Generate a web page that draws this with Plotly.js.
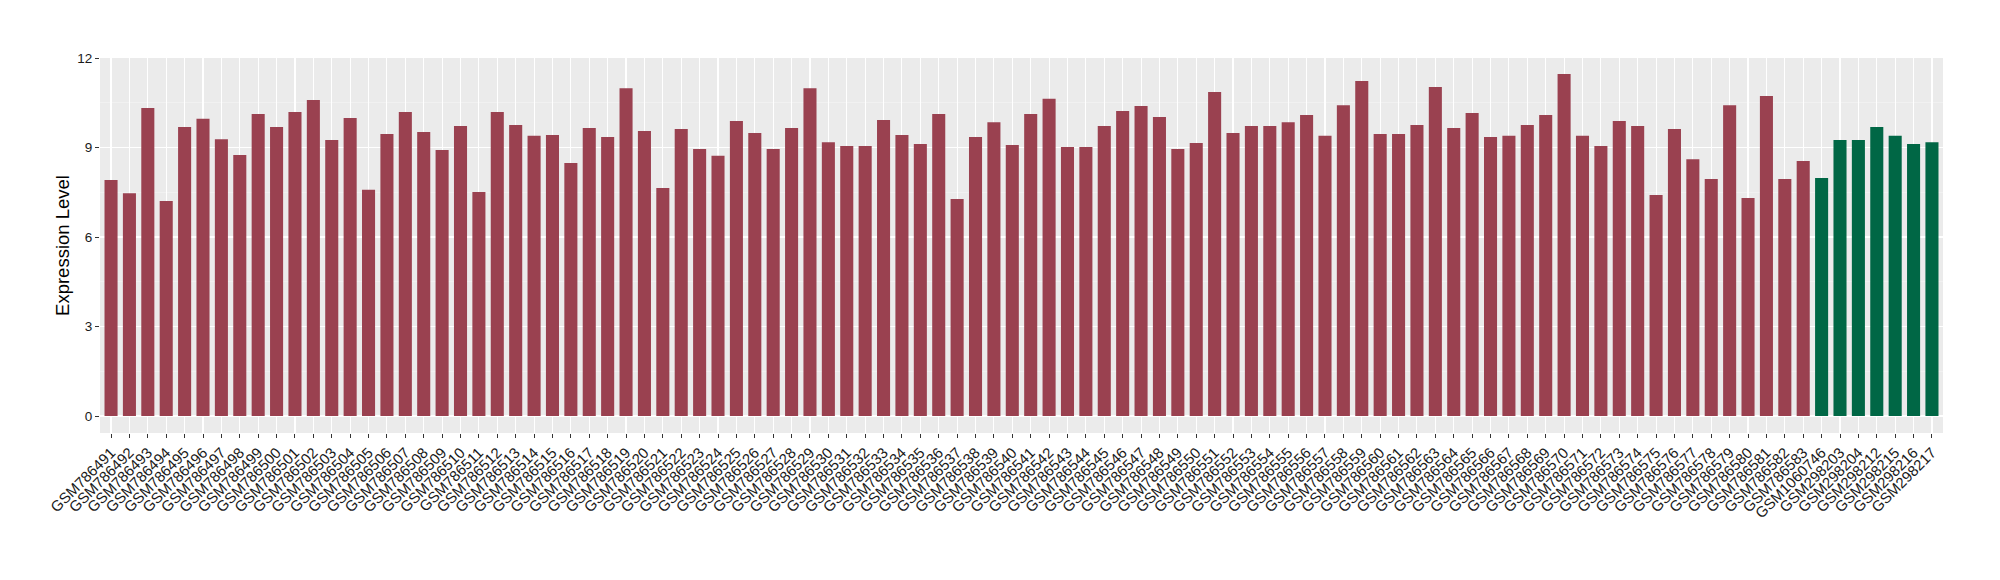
<!DOCTYPE html>
<html>
<head>
<meta charset="utf-8">
<script src="https://cdn.plot.ly/plotly-3.0.1.min.js"></script>
<style>html,body{margin:0;padding:0;background:#fff;}#chart{width:2000px;height:580px;}</style>
</head>
<body>
<div id="chart"></div>
<script>
// Samples of group 1 (maroon)
const groupASamples = [
  "GSM786491","GSM786492","GSM786493","GSM786494","GSM786495","GSM786496","GSM786497","GSM786498","GSM786499","GSM786500",
  "GSM786501","GSM786502","GSM786503","GSM786504","GSM786505","GSM786506","GSM786507","GSM786508","GSM786509","GSM786510",
  "GSM786511","GSM786512","GSM786513","GSM786514","GSM786515","GSM786516","GSM786517","GSM786518","GSM786519","GSM786520",
  "GSM786521","GSM786522","GSM786523","GSM786524","GSM786525","GSM786526","GSM786527","GSM786528","GSM786529","GSM786530",
  "GSM786531","GSM786532","GSM786533","GSM786534","GSM786535","GSM786536","GSM786537","GSM786538","GSM786539","GSM786540",
  "GSM786541","GSM786542","GSM786543","GSM786544","GSM786545","GSM786546","GSM786547","GSM786548","GSM786549","GSM786550",
  "GSM786551","GSM786552","GSM786553","GSM786554","GSM786555","GSM786556","GSM786557","GSM786558","GSM786559","GSM786560",
  "GSM786561","GSM786562","GSM786563","GSM786564","GSM786565","GSM786566","GSM786567","GSM786568","GSM786569","GSM786570",
  "GSM786571","GSM786572","GSM786573","GSM786574","GSM786575","GSM786576","GSM786577","GSM786578","GSM786579","GSM786580",
  "GSM786581","GSM786582","GSM786583"
];
const groupAValues = [
  7.91,7.47,10.32,7.21,9.69,9.96,9.28,8.75,10.12,9.69,
  10.19,10.59,9.25,9.99,7.58,9.45,10.19,9.52,8.92,9.72,
  7.51,10.19,9.75,9.39,9.42,8.48,9.65,9.35,10.99,9.55,
  7.64,9.62,8.95,8.72,9.89,9.49,8.95,9.65,10.99,9.18,
  9.05,9.05,9.92,9.42,9.12,10.12,7.27,9.35,9.85,9.08,
  10.12,10.63,9.02,9.02,9.72,10.22,10.39,10.02,8.95,9.15,
  10.86,9.49,9.72,9.72,9.85,10.09,9.39,10.42,11.23,9.45,
  9.45,9.75,11.03,9.65,10.16,9.35,9.39,9.75,10.09,11.46,
  9.39,9.05,9.89,9.72,7.41,9.62,8.61,7.94,10.42,7.31,
  10.73,7.94,8.55
];
// Samples of group 2 (green)
const groupBSamples = ["GSM1060746","GSM298203","GSM298204","GSM298212","GSM298215","GSM298216","GSM298217"];
const groupBValues = [7.98,9.25,9.25,9.69,9.39,9.12,9.18];

const yTicks = [0,3,6,9,12];

const allSamples = groupASamples.concat(groupBSamples);
const colA = "#9A4150", colB = "#006745";

const traces = [
  {type:"bar", x:groupASamples, y:groupAValues, marker:{color:colA}, width:0.71, hoverinfo:"x+y"},
  {type:"bar", x:groupBSamples, y:groupBValues, marker:{color:colB}, width:0.71, hoverinfo:"x+y"}
];

const layout = {
  width:2000, height:580,
  showlegend:false,
  paper_bgcolor:"#ffffff",
  plot_bgcolor:"#EBEBEB",
  margin:{l:100, r:57, t:58, b:147, pad:0},
  font:{family:"Liberation Sans, Arial, sans-serif", color:"#1a1a1a"},
  bargap:0.29,
  xaxis:{
    type:"category",
    categoryorder:"array", categoryarray:allSamples,
    range:[-0.6, allSamples.length-0.4],
    tickangle:-45,
    tickfont:{size:15, color:"#1a1a1a"},
    ticks:"outside", ticklen:4, tickcolor:"#333333", tickwidth:1,
    showgrid:true, gridcolor:"#ffffff", gridwidth:1.1,
    zeroline:false, showline:false, automargin:false, fixedrange:true
  },
  yaxis:{
    range:[-0.57, 12],
    tickvals:yTicks, ticktext:yTicks.map(String),
    tickfont:{size:13.5, color:"#1a1a1a"},
    ticks:"outside", ticklen:4, tickcolor:"#333333", tickwidth:1,
    showgrid:true, gridcolor:"#ffffff", gridwidth:1.1,
    minor:{dtick:1.5, tick0:0, showgrid:true, gridcolor:"#F5F5F5", gridwidth:0.6, ticks:""},
    zeroline:false, showline:false, automargin:false, fixedrange:true,
    title:{text:"Expression Level", font:{size:18.5, color:"#000000"}, standoff:2}
  }
};

Plotly.newPlot("chart", traces, layout, {displayModeBar:false, staticPlot:true});
</script>
</body>
</html>
